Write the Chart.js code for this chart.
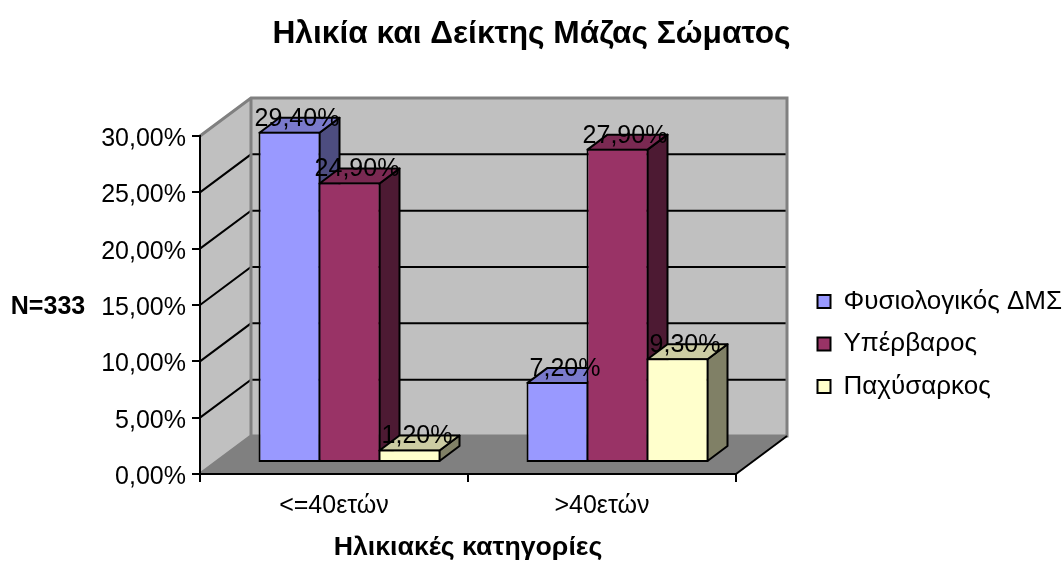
<!DOCTYPE html>
<html><head><meta charset="utf-8">
<style>html,body{margin:0;padding:0;background:#fff}canvas{display:block}</style>
<script src="https://cdn.jsdelivr.net/npm/chart.js@4"></script></head>
<body><div style="width:1063px;height:564px"><canvas id="c" width="1063" height="564"></canvas></div>
<script>
const categories = ['<=40ετών', '>40ετών'];
const normal = [29.4, 7.2];
const overweight = [24.9, 27.9];
const obese = [1.2, 9.3];
const seriesNames = ['Φυσιολογικός ΔΜΣ', 'Υπέρβαρος', 'Παχύσαρκος'];
const seriesValues = [normal, overweight, obese];
const fills = ['#9999FF', '#993366', '#FFFFCC'];
const tops = ['#7A7ACC', '#7A2952', '#CCCCA3'];
const sides = ['#4D4D80', '#4D1A33', '#808066'];
const FONT = '"Liberation Sans", Arial, sans-serif';
const comma = (v, d) => v.toFixed(d).replace('.', ',') + '%';

const DX = 51, DY = -38;     // depth of the box
const BX = 15.5, BY = -11;   // bars' place inside the box
const SX = 20, SY = -15;     // depth of a bar
const BW = 2;                // bar border, drawn inside the bar

function poly(ctx, pts, fill, stroke, lw) {
  ctx.beginPath();
  pts.forEach((p, i) => i ? ctx.lineTo(p[0], p[1]) : ctx.moveTo(p[0], p[1]));
  ctx.closePath();
  if (fill) { ctx.fillStyle = fill; ctx.fill(); }
  if (stroke) { ctx.strokeStyle = stroke; ctx.lineWidth = lw; ctx.lineJoin = 'round'; ctx.stroke(); }
}

const box3d = {
  id: 'box3d',
  beforeLayout(chart) {
    const l = chart.legend;
    if (!l._wrapped) {
      const f = l.fit;
      l.fit = function () { f.call(this); this.width = 327; };
      l._wrapped = true;
    }
    const y = chart.scales.y;
    if (y && !y._shifted) {
      const g = y._computeLabelItems;
      y._computeLabelItems = function (ca) {
        const items = g.call(this, ca);
        items.forEach(it => { it.options.translation[1] += 3; });
        return items;
      };
      y._shifted = true;
    }
  },
  afterLayout(chart) {
    const l = chart.legend, pad = l.options.labels.padding;
    l.left = 817.5 - pad; l.right = 1063;
    l.top = 288.5 - pad; l.bottom = 420;
  },
  beforeDraw(chart) {
    const { ctx, chartArea: a, scales: { y } } = chart;
    ctx.save();
    poly(ctx, [[a.left, a.top], [a.left + DX, a.top + DY], [a.left + DX, a.bottom + DY], [a.left, a.bottom]], '#C0C0C0');
    poly(ctx, [[a.left + DX, a.top + DY], [a.right + DX, a.top + DY], [a.right + DX, a.bottom + DY], [a.left + DX, a.bottom + DY]], '#C0C0C0');
    poly(ctx, [[a.left, a.bottom], [a.left + DX, a.bottom + DY], [a.right + DX, a.bottom + DY], [a.right, a.bottom]], '#808080');
    // gridlines
    ctx.strokeStyle = '#000'; ctx.lineWidth = 2;
    y.ticks.forEach(t => {
      if (t.value === 0 || t.value === y.max) return;
      const py = y.getPixelForValue(t.value);
      ctx.beginPath();
      ctx.moveTo(a.left, py); ctx.lineTo(a.left + DX, py + DY); ctx.lineTo(a.right + DX, py + DY);
      ctx.stroke();
    });
    // gray frame
    ctx.strokeStyle = '#808080'; ctx.lineWidth = 3;
    ctx.beginPath();
    ctx.moveTo(a.left, a.top); ctx.lineTo(a.left + DX, a.top + DY); ctx.lineTo(a.right + DX, a.top + DY);
    ctx.lineTo(a.right + DX, a.bottom + DY); ctx.lineTo(a.left + DX, a.bottom + DY); ctx.lineTo(a.left + DX, a.top + DY);
    ctx.moveTo(a.left, a.bottom); ctx.lineTo(a.left + DX, a.bottom + DY);
    ctx.stroke();
    ctx.strokeStyle = '#000'; ctx.lineWidth = 2;
    ctx.beginPath(); ctx.moveTo(a.right, a.bottom); ctx.lineTo(a.right + DX, a.bottom + DY); ctx.stroke();
    // side label
    ctx.fillStyle = '#000'; ctx.font = 'bold 25px ' + FONT;
    ctx.textAlign = 'center'; ctx.textBaseline = 'middle';
    ctx.fillText('N=333', 48, 307);
    ctx.restore();
  },
  // series are drawn first to last, so a bar covers the side of its left neighbour
  beforeDatasetsDraw(chart) {
    const { ctx } = chart;
    const inset = BW / 2;
    chart.data.datasets.forEach((ds, i) => {
      const meta = chart.getDatasetMeta(i);
      ctx.save();
      ctx.translate(BX, BY);
      meta.data.forEach(el => {
        const l = el.x - el.width / 2 + inset, r = el.x + el.width / 2 - inset, t = el.y + inset, b = el.base - inset;
        poly(ctx, [[r, t], [r + SX, t + SY], [r + SX, b + SY], [r, b]], sides[i], '#000', BW);
        poly(ctx, [[l, t], [l + SX, t + SY], [r + SX, t + SY], [r, t]], tops[i], '#000', BW);
      });
      meta.controller.draw();
      ctx.restore();
    });
    ctx.save();
    ctx.fillStyle = '#000'; ctx.font = '25px ' + FONT;
    ctx.textAlign = 'center'; ctx.textBaseline = 'middle';
    chart.data.datasets.forEach((ds, i) => {
      chart.getDatasetMeta(i).data.forEach((el, j) => {
        ctx.fillText(comma(ds.data[j], 2), el.x + BX + 7.5, el.y + BY - 13);
      });
    });
    ctx.restore();
    return false;
  }
};

new Chart(document.getElementById('c'), {
  type: 'bar',
  data: {
    labels: categories,
    datasets: seriesNames.map((n, i) => ({
      label: n, data: seriesValues[i], backgroundColor: fills[i],
      borderColor: '#000', borderWidth: BW, borderSkipped: false
    }))
  },
  options: {
    responsive: false, animation: false,
    events: [],
    layout: { autoPadding: false, padding: 0 },
    datasets: { bar: { barPercentage: 62 / 60, categoryPercentage: 180 / 268 } },
    plugins: {
      tooltip: { enabled: false },
      title: {
        display: true, text: 'Ηλικία και Δείκτης Μάζας Σώματος', color: '#000',
        font: { family: FONT, size: 31.7, weight: 'bold', lineHeight: 1.2 },
        padding: { top: 15, bottom: 82.96 }
      },
      legend: {
        display: true, position: 'right', align: 'start',
        labels: {
          color: '#000', font: { family: FONT, size: 26 },
          boxWidth: 13, boxHeight: 13, padding: 16.5
        }
      }
    },
    scales: {
      x: {
        afterFit(s) { s.height = 90; },
        grid: { drawOnChartArea: false, color: '#000', lineWidth: 2, tickLength: 8, tickColor: '#000' },
        border: { color: '#000', width: 2 },
        ticks: { color: '#000', maxRotation: 0, padding: 9, font: { family: FONT, size: 25 } },
        title: {
          display: true, text: 'Ηλικιακές κατηγορίες', color: '#000',
          font: { family: FONT, size: 26.7, weight: 'bold' }, padding: { top: 0, bottom: 0 }
        }
      },
      y: {
        min: 0, max: 30,
        afterFit(s) { s.width = 200; },
        grid: { drawOnChartArea: false, color: '#000', lineWidth: 2, tickLength: 8, tickColor: '#000' },
        border: { color: '#000', width: 2 },
        ticks: {
          color: '#000', stepSize: 5, padding: 6, font: { family: FONT, size: 25 },
          callback: v => comma(v, 2)
        }
      }
    }
  },
  plugins: [box3d]
});
</script></body></html>
